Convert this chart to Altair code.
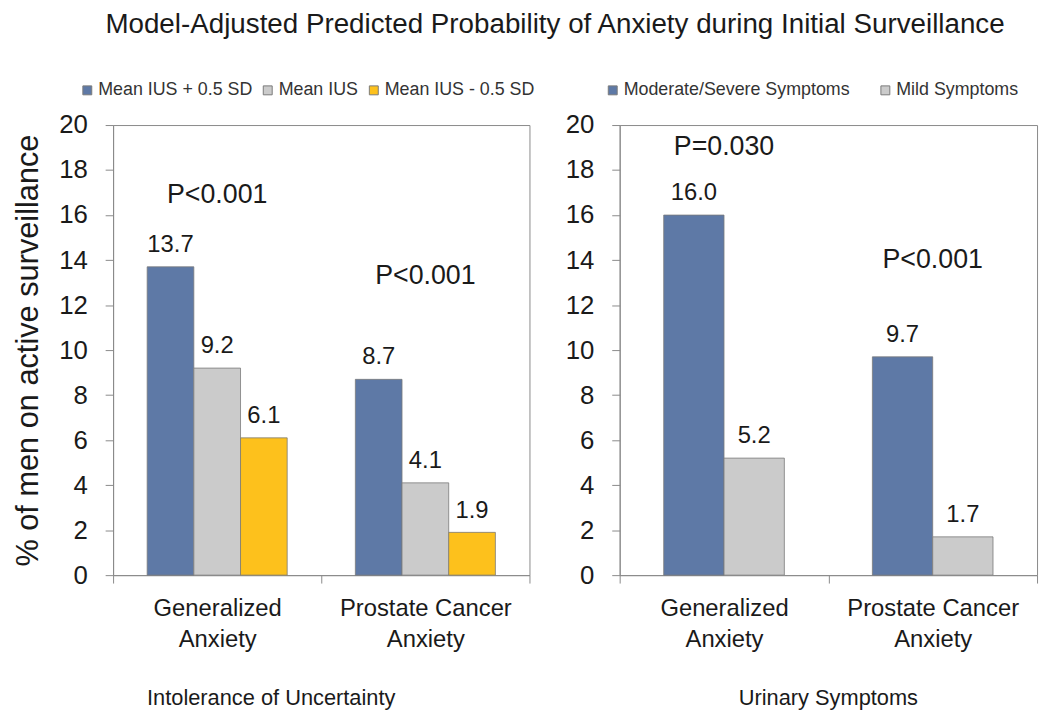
import altair as alt
import pandas as pd

title_text = "Model-Adjusted Predicted Probability of Anxiety during Initial Surveillance"
y_title = "% of men on active surveillance"
categories = ["Generalized Anxiety", "Prostate Cancer Anxiety"]
y_ticks = [0, 2, 4, 6, 8, 10, 12, 14, 16, 18, 20]

ius_panel_title = "Intolerance of Uncertainty"
ius_series = ["Mean IUS + 0.5 SD", "Mean IUS", "Mean IUS - 0.5 SD"]
ius_general = [13.7, 9.2, 6.1]
ius_prostate = [8.7, 4.1, 1.9]
ius_p_labels = ["P<0.001", "P<0.001"]
ius_p_y = [16.9, 13.3]
ius_colors = ["#5e79a6", "#cbcbcb", "#fdc11c"]

uri_panel_title = "Urinary Symptoms"
uri_series = ["Moderate/Severe Symptoms", "Mild Symptoms"]
uri_general = [16.0, 5.2]
uri_prostate = [9.7, 1.7]
uri_p_labels = ["P=0.030", "P<0.001"]
uri_p_y = [19.0, 14.0]
uri_colors = ["#5e79a6", "#cbcbcb"]

FONT = "Liberation Sans"
TEXT = "#1a1a1a"
LINE = "#8a8a8a"


def build_df(series, gen, pro):
    rows = []
    for cat, vals in zip(categories, [gen, pro]):
        for s, v in zip(series, vals):
            rows.append({"category": cat, "series": s, "value": v})
    return pd.DataFrame(rows)


def panel(series, gen, pro, plabels, py, colors, ptitle, width, show_ytitle,
          legend_x, col_pad, outer_pad, title_x):
    df = build_df(series, gen, pro)
    pdf = pd.DataFrame({"category": categories, "label": plabels, "ypos": py})

    x = alt.X(
        "category:N", sort=categories,
        scale=alt.Scale(paddingInner=0, paddingOuter=0),
        axis=alt.Axis(
            title=ptitle, tickBand="extent", labelAngle=0,
            labelExpr="[slice(datum.label, 0, lastindexof(datum.label, ' ')), slice(datum.label, lastindexof(datum.label, ' ') + 1)]",
            labelFontSize=24, labelLineHeight=31, labelPadding=14, labelColor=TEXT,
            tickSize=8, tickColor=LINE, domainColor=LINE,
            titleFontSize=22, titleFontWeight="normal", titleColor=TEXT, titlePadding=37,
            titleX=title_x,
        ),
    )
    xo = alt.XOffset("series:N", sort=series,
                     scale=alt.Scale(domain=series, paddingInner=0, paddingOuter=outer_pad))
    y_axis_kwargs = dict(
        values=y_ticks, labelFontSize=26, labelPadding=18, labelColor=TEXT,
        tickSize=8, tickColor=LINE, domainColor=LINE, grid=False,
    )
    if show_ytitle:
        y_axis_kwargs.update(title=y_title, titleFontSize=31, titleFontWeight="normal",
                             titleColor=TEXT, titlePadding=14)
    else:
        y_axis_kwargs.update(title=None)
    y = alt.Y("value:Q", scale=alt.Scale(domain=[0, 20], nice=False),
              axis=alt.Axis(**y_axis_kwargs))

    bars = alt.Chart(df).mark_bar(stroke="#7a7a7a", strokeWidth=0.8).encode(
        x=x, xOffset=xo, y=y,
        color=alt.Color(
            "series:N", sort=series,
            scale=alt.Scale(domain=series, range=colors),
            legend=alt.Legend(
                title=None, orient="none", legendX=legend_x, legendY=-44,
                direction="horizontal", columns=len(series), columnPadding=col_pad,
                symbolType="square", symbolSize=81, symbolStrokeColor="#7a7a7a",
                symbolStrokeWidth=1, symbolOpacity=1, labelFontSize=18,
                labelColor="#333333", labelOffset=2, labelFont=FONT, labelLimit=400,
            ),
        ),
    )
    values = alt.Chart(df).mark_text(
        dy=-15, baseline="alphabetic", fontSize=24, color=TEXT, font=FONT
    ).encode(
        x=alt.X("category:N", sort=categories),
        xOffset=alt.XOffset("series:N", sort=series),
        y=alt.Y("value:Q"),
        text=alt.Text("value:Q", format=".1f"),
    )
    plabels_layer = alt.Chart(pdf).mark_text(
        baseline="middle", fontSize=27, color=TEXT, font=FONT
    ).encode(
        x=alt.X("category:N", sort=categories),
        y=alt.Y("ypos:Q"),
        text="label:N",
    )
    return alt.layer(bars, values, plabels_layer).properties(width=width, height=454)


left = panel(ius_series, ius_general, ius_prostate, ius_p_labels, ius_p_y, ius_colors,
             ius_panel_title, 420, True, -35, 6, 0.73, 159)
right = panel(uri_series, uri_general, uri_prostate, uri_p_labels, uri_p_y, uri_colors,
              uri_panel_title, 421, False, -16, 26, 0.73, 210)

chart = alt.hconcat(left, right, spacing=28).resolve_scale(
    color="independent", xOffset="independent"
).properties(
    title=alt.TitleParams(title_text, fontSize=28, fontWeight="normal", color=TEXT,
                          anchor="middle", dx=30, offset=42, font=FONT),
    padding={"left": 4, "top": 0, "right": 4, "bottom": 0},
).configure(font=FONT).configure_view(stroke=LINE, strokeWidth=1)

chart.save("out.html", embed_options={"renderer": "svg", "actions": False})
